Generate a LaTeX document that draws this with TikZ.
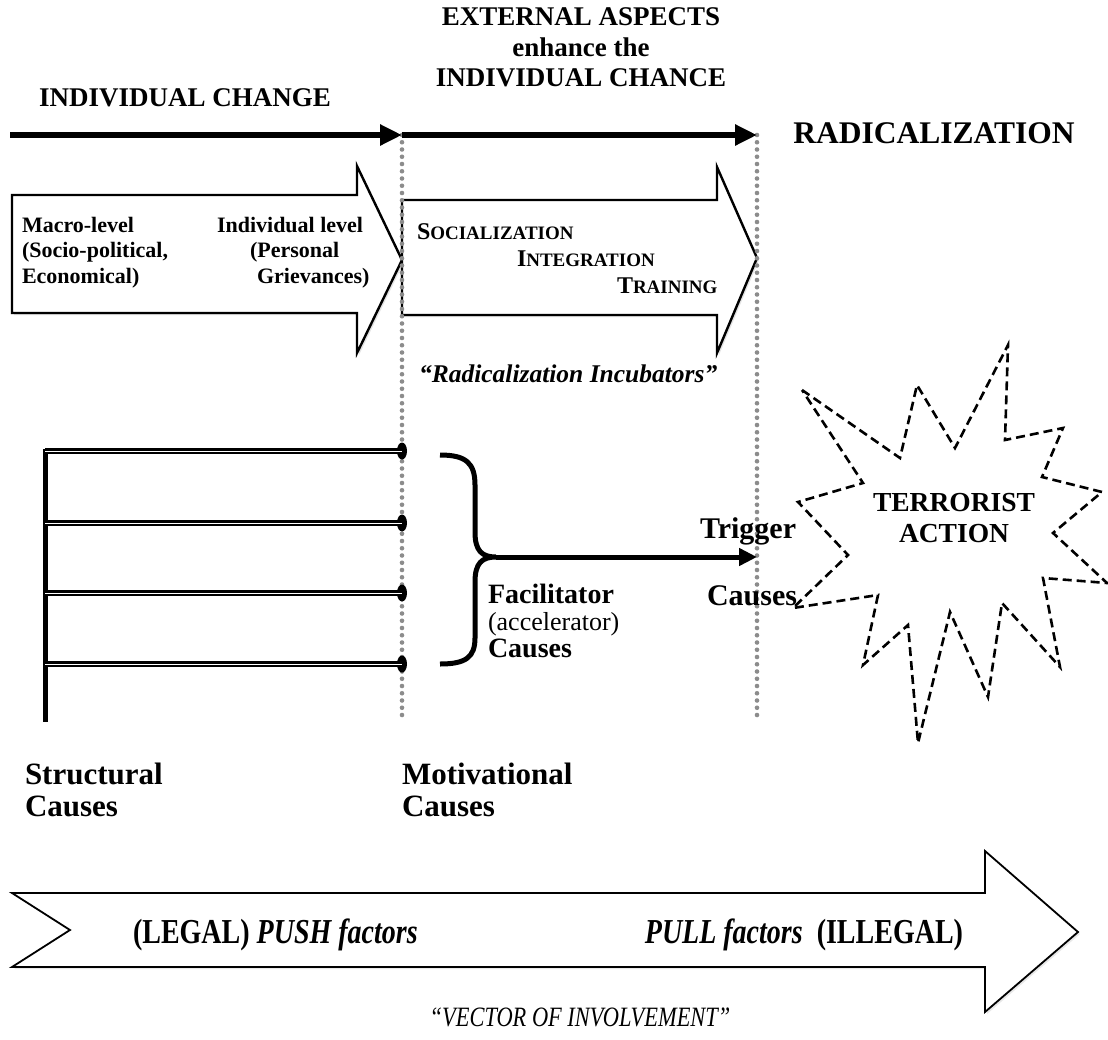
\documentclass[tikz,border=0pt]{standalone}
\usepackage{fontspec}
\setmainfont{Liberation Serif}
\newfontfamily\condfont{Liberation Serif}[FakeStretch=0.8,Ligatures=TeX]
\usetikzlibrary{arrows.meta,shadows,shapes.geometric}
\newcommand\myfs[2]{\fontsize{#1}{#2}\selectfont}
\newcommand\fsc[2]{{\myfs{24}{27}#1}{\myfs{19}{27}#2}}
\begin{document}
\begin{tikzpicture}[x=1pt,y=-1pt,
  blockarrow/.style={draw=black, line width=2.4pt, fill=white, line join=miter,
     drop shadow={shadow xshift=2pt,shadow yshift=-2pt,fill=black!22}},
  thinarrow/.style={draw=black, line width=1.8pt, fill=white, line join=miter,
     drop shadow={shadow xshift=2pt,shadow yshift=-2pt,fill=black!18}},
  timeline/.style={line width=6pt, -{Triangle[length=22pt,width=20pt]}},
  dotline/.style={line width=4.6pt, draw=black!45, line cap=round, dash pattern=on 0pt off 7.25pt},
  dbl/.style={draw=black, double=white, line width=2.3pt, double distance=1pt},
  enddot/.style={ellipse, fill=black, minimum width=10pt, minimum height=17pt, inner sep=0pt},
  burst/.style={draw=black, line width=2.6pt, dash pattern=on 9pt off 5pt, line join=miter},
  txt/.style={inner sep=0pt, outer sep=0pt}
]
\useasboundingbox (0,0) rectangle (1108,1039);

% ---------- headings ----------
\node[txt, anchor=base, font=\bfseries\myfs{27}{30}] (indchange) at (185,106) {INDIVIDUAL CHANGE};
\node[txt, anchor=north, align=center, font=\bfseries\myfs{27}{30.5}] (external) at (581,8)
  {EXTERNAL ASPECTS\\enhance the\\INDIVIDUAL CHANCE};
\node[txt, anchor=base, font=\bfseries\myfs{31.5}{34}] (radical) at (934,143) {RADICALIZATION};

% ---------- block arrows ----------
\path[blockarrow] (12,195) -- (357,195) -- (357,166) -- (402,260) -- (357,353) -- (357,313) -- (12,313) -- cycle;
\path[blockarrow] (402,200) -- (717,200) -- (717,167) -- (757,258) -- (717,353) -- (717,315) -- (402,315) -- cycle;

\node[txt, anchor=north west, align=left, font=\bfseries\myfs{22}{25.5}] (macro) at (22,217)
  {Macro-level\\(Socio-political,\\Economical)};
\node[txt, anchor=north west, align=left, font=\bfseries\myfs{22}{25.5}] (indlevel) at (217,217)
  {Individual level\\\hspace*{33pt}(Personal\\\hspace*{40pt}Grievances)};
\node[txt, anchor=north west, align=left, font=\bfseries\myfs{24}{27}] (social) at (417,224)
  {\fsc{S}{OCIALIZATION}\\\hspace*{100pt}\fsc{I}{NTEGRATION}\\\hspace*{200pt}\fsc{T}{RAINING}};
\node[txt, anchor=base west, font=\bfseries\itshape\myfs{25.5}{27}] (incub) at (419,382)
  {“Radicalization Incubators”};

% ---------- dotted separators ----------
\coordinate (m0) at (402,135);
\coordinate (m1) at (402,715);
\coordinate (t0) at (757,135);
\coordinate (t1) at (757,715);
\draw[dotline] (m0) -- (m1);
\draw[dotline] (t0) -- (t1);

% ---------- top time line ----------
\coordinate (s0) at (10,135);
\draw[timeline] (s0) -- (m0);
\draw[timeline] (m0) -- (t0);

% ---------- structural causes ----------
\coordinate (vtop) at (45,449);
\coordinate (vbot) at (45,722);
\draw[line width=5pt] (vtop) -- (vbot);
\node[enddot] (d1) at (402,451) {};
\node[enddot] (d2) at (402,523) {};
\node[enddot] (d3) at (402,593) {};
\node[enddot] (d4) at (402,664) {};
\coordinate (h1) at (45,451);
\coordinate (h2) at (45,523);
\coordinate (h3) at (45,593);
\coordinate (h4) at (45,664);
\draw[dbl] (h1) -- (d1.center);
\draw[dbl] (h2) -- (d2.center);
\draw[dbl] (h3) -- (d3.center);
\draw[dbl] (h4) -- (d4.center);

% ---------- brace and arrow ----------
\coordinate (bt) at (496,557);
\coordinate (trg) at (757,557);
\draw[line width=5pt, line cap=butt]
  (440,455) .. controls (466,455) and (475,463) .. (475,485) -- (475,532)
  .. controls (475,551) and (482,557) .. (bt)
  .. controls (482,557) and (475,563) .. (475,582) -- (475,638)
  .. controls (475,657) and (466,664) .. (440,664);
\draw[line width=5pt, -{Triangle[length=18pt,width=17pt]}] (bt) -- (trg);

\node[txt, anchor=north west, align=left, font=\myfs{26}{27}] (facil) at (488,584)
  {{\bfseries\myfs{28}{27}Facilitator}\\(accelerator)\\{\bfseries\myfs{28}{27}Causes}};
\node[txt, anchor=base west, font=\bfseries\myfs{30}{32}] (trigger) at (700,538) {Trigger};
\node[txt, anchor=base west, font=\bfseries\myfs{30}{32}] (tcauses) at (707,605) {Causes};

\node[txt, anchor=north west, align=left, font=\bfseries\myfs{31}{32}] (struct) at (25,763)
  {Structural\\Causes};
\node[txt, anchor=north west, align=left, font=\bfseries\myfs{31}{32}] (motiv) at (402,763)
  {Motivational\\Causes};

% ---------- starburst ----------
\draw[burst] (802,390) -- (900,458) -- (917,385) -- (955,448) -- (1008,345) -- (1005,440)
  -- (1063,428) -- (1042,477) -- (1102,492) -- (1053,533) -- (1107,583) -- (1043,578)
  -- (1060,667) -- (1002,603) -- (988,697) -- (950,612) -- (918,743) -- (908,625)
  -- (863,665) -- (878,595) -- (793,608) -- (848,555) -- (798,502) -- (863,483) -- cycle;
\node[txt, align=center, font=\bfseries\myfs{27.5}{31}] (terror) at (954,518) {TERRORIST\\ACTION};

% ---------- vector of involvement ----------
\path[thinarrow] (12,893) -- (985,893) -- (985,851) -- (1078,932) -- (985,1012) -- (985,967)
  -- (12,967) -- (70,930) -- cycle;
\node[txt, anchor=base west, font=\condfont\bfseries\myfs{35}{36}] (push) at (133,943)
  {(LEGAL) \textit{PUSH factors}};
\node[txt, anchor=base east, font=\condfont\bfseries\myfs{35}{36}] (pull) at (963,943)
  {\textit{PULL factors}\hspace{14pt}(ILLEGAL)};
\node[txt, anchor=base, font=\condfont\itshape\myfs{28}{30}] (vector) at (580,1026)
  {“VECTOR OF INVOLVEMENT”};
\end{tikzpicture}
\end{document}
